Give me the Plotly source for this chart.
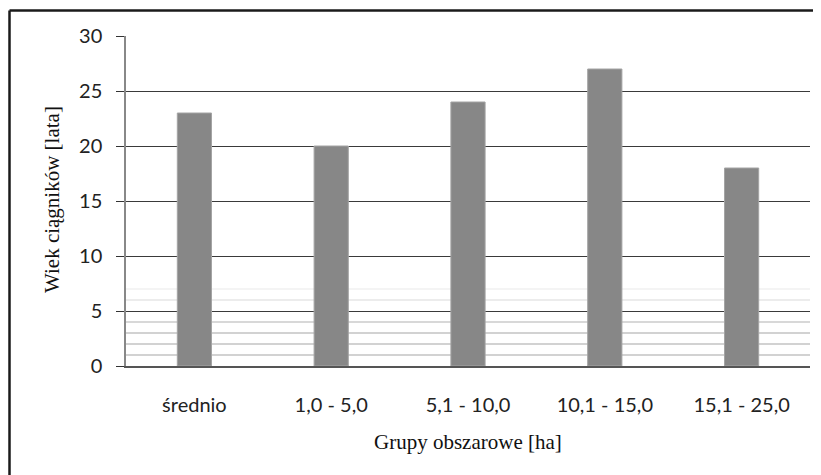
import plotly.graph_objects as go

categories = ["średnio", "1,0 - 5,0", "5,1 - 10,0", "10,1 - 15,0", "15,1 - 25,0"]
values = [23, 20, 24, 27, 18]
y_ticks = [0, 5, 10, 15, 20, 25, 30]
faint_levels = [1, 2, 3, 4, 6, 7]
faint_colors = ["#d2d2d2", "#d2d2d2", "#d2d2d2", "#d8d8d8", "#ececec", "#f4f4f4"]

# page body has an 8px margin, so the figure is sized to fit the 821x475 window
W, H = 813, 467
L, R, T, B = 118, 11, 28, 109
PW, PH = W - L - R, H - T - B


def px_x(x):
    return (x - L) / PW


def px_y(y):
    return (H - B - y) / PH


fig = go.Figure()
fig.add_trace(go.Bar(
    x=categories, y=values,
    marker=dict(color="#878787", line=dict(color="#a4a4a4", width=1)),
    width=0.25,
))

for lvl, col in zip(faint_levels, faint_colors):
    fig.add_shape(type="line", xref="paper", yref="y", x0=0, x1=1, y0=lvl, y1=lvl,
                  line=dict(color=col, width=2), layer="below")

# outer chart border: only its left and top edges fall inside the window
fig.add_shape(type="line", xref="paper", yref="paper",
              x0=px_x(1.5), x1=px_x(1.5), y0=px_y(H + 5), y1=px_y(2.5),
              line=dict(color="#1a1a1a", width=2.5))
fig.add_shape(type="line", xref="paper", yref="paper",
              x0=px_x(1.5), x1=px_x(W + 5), y0=px_y(2.5), y1=px_y(2.5),
              line=dict(color="#1a1a1a", width=2.5))

fig.add_annotation(text="Grupy obszarowe [ha]", xref="paper", yref="paper",
                   x=px_x(460), y=px_y(434),
                   showarrow=False, xanchor="center", yanchor="middle",
                   font=dict(family="Liberation Serif", size=21, color="#111"))

fig.add_annotation(text="Wiek ciągników [lata]", xref="paper", yref="paper",
                   x=px_x(44), y=px_y(192), textangle=-90,
                   showarrow=False, xanchor="center", yanchor="middle",
                   font=dict(family="Liberation Serif", size=21, color="#111"))

fig.update_layout(
    width=W, height=H,
    margin=dict(l=L, r=R, t=T, b=B),
    paper_bgcolor="white", plot_bgcolor="white",
    showlegend=False,
    xaxis=dict(
        showline=True, linecolor="#555", linewidth=1.5,
        ticks="", showgrid=False,
        tickfont=dict(family="Lato", size=20, color="#222"),
        ticklabelstandoff=20,
    ),
    yaxis=dict(
        range=[0, 30], tickvals=y_ticks,
        showline=True, linecolor="#888", linewidth=1.5,
        ticks="outside", ticklen=8, tickcolor="#333", tickwidth=1,
        showgrid=True, gridcolor="#3a3a3a", gridwidth=1,
        zeroline=False,
        tickfont=dict(family="Lato", size=20, color="#222"),
        ticklabelstandoff=10,
    ),
)

fig.write_html("out.html")
